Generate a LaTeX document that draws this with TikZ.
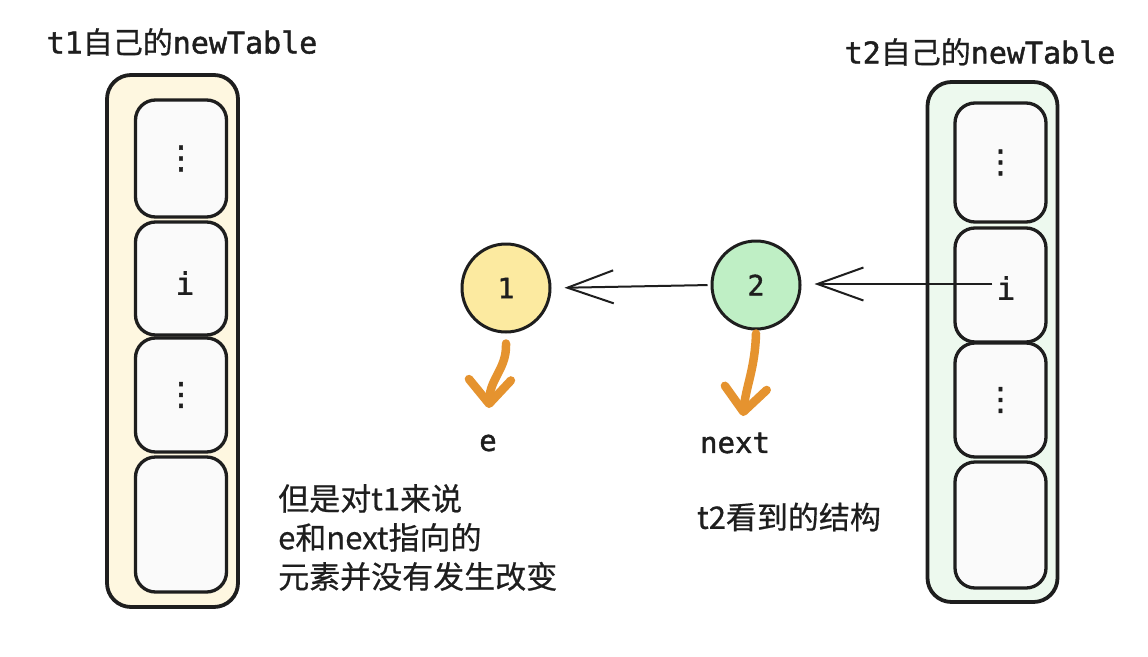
\documentclass[tikz,border=0pt]{standalone}
\usepackage{fontspec}
\newfontfamily\cjk{Noto Sans CJK SC}[FakeBold=0.6]
\newfontfamily\mono{DejaVu Sans Mono}[FakeBold=1.4]
\newfontfamily\sym{DejaVu Sans}[FakeBold=1.5]
\usetikzlibrary{arrows.meta}
\definecolor{ink}{HTML}{1E1E1E}
\definecolor{yellowfill}{HTML}{FEF7E0}
\definecolor{greenfill}{HTML}{EDF9EE}
\definecolor{cellfill}{HTML}{FAFAFA}
\definecolor{onefill}{HTML}{FCEAA0}
\definecolor{twofill}{HTML}{BFEFC5}
\definecolor{orangeink}{HTML}{E5932F}
\tikzset{
  outerbox/.style={draw=ink, line width=3.8pt, rounded corners=24pt, inner sep=0pt},
  cellbox/.style={draw=ink, line width=3.3pt, rounded corners=20pt, fill=cellfill, inner sep=0pt, minimum width=91pt},
  numcircle/.style={circle, draw=ink, line width=3pt, minimum size=88pt, inner sep=0pt, text=ink, font=\mono\fontsize{28}{32}\selectfont},
  celltext/.style={text=ink, inner sep=0pt, font=\mono\fontsize{31}{34}\selectfont},
  dotstext/.style={text=ink, inner sep=0pt, font=\sym\fontsize{32}{36}\selectfont},
  title/.style={text=ink, inner sep=0pt, font=\fontsize{30}{38}\selectfont},
  label/.style={text=ink, inner sep=0pt, font=\mono\fontsize{29}{36}\selectfont},
  note/.style={text=ink, inner sep=0pt, align=left, font=\cjk\fontsize{31}{39}\selectfont},
  blackarrow/.style={draw=ink, line width=2pt, -{Straight Barb[length=46pt, width=33pt]}},
  orangearrow/.style={draw=orangeink, line width=8.5pt, line cap=round, -{Straight Barb[length=24pt, width=42pt, round]}},
}
\begin{document}
\begin{tikzpicture}[x=1pt, y=-1pt]
\useasboundingbox (0,0) rectangle (1148,656);
\fill[white] (0,0) rectangle (1148,656);

% titles
\node[title] (t1) at (182,42) {{\mono t1}{\cjk 自己的}{\mono newTable}};
\node[title] (t2) at (980,52) {{\mono t2}{\cjk 自己的}{\mono newTable}};

% left table
\node[outerbox, fill=yellowfill, minimum width=131pt, minimum height=532pt] (lt) at (172.5,341) {};
\node[cellbox, minimum height=117pt] (l1) at (181,158.5) {};
\node[cellbox, minimum height=113pt] (l2) at (181,278.5) {};
\node[cellbox, minimum height=114pt] (l3) at (181,395) {};
\node[cellbox, minimum height=135pt] (l4) at (181,524.5) {};
\node[dotstext] (l1t) at (l1.center) {⋮};
\node[celltext] (l2t) at (185,283) {i};
\node[dotstext] (l3t) at (l3.center) {⋮};

% right table
\node[outerbox, fill=greenfill, minimum width=130pt, minimum height=520pt] (rt) at (992.5,342) {};
\node[cellbox, minimum height=119pt] (r1) at (1000.5,162.5) {};
\node[cellbox, minimum height=114pt] (r2) at (1000.5,285) {};
\node[cellbox, minimum height=114pt] (r3) at (1000.5,400) {};
\node[cellbox, minimum height=126pt] (r4) at (1000.5,525) {};
\node[dotstext] (r1t) at (r1.center) {⋮};
\node[celltext] (ri) at (1006,288) {i};
\node[dotstext] (r3t) at (r3.center) {⋮};

% circles
\node[numcircle, fill=onefill] (c1) at (506,288) {1};
\node[numcircle, fill=twofill] (c2) at (756,285) {2};

% labels
\node[label] (e) at (488,443) {e};
\node[label] (nx) at (735,443) {next};
\coordinate (etip) at (489,408);
\coordinate (nxtip) at (743,416);

% notes
\node[note, anchor=north west] (n1) at (278,484) {但是对t1来说\\e和next指向的\\元素并没有发生改变};
\node[note] (n2) at (789,517) {t2看到的结构};

% connectors
\draw[blackarrow, shorten <=3pt, shorten >=13pt] (c2.west) -- (c1.east);
\draw[blackarrow, shorten <=4pt, shorten >=13pt] ([yshift=4pt]ri.west) -- ([yshift=4pt]ri.west -| c2.east);
\draw[orangearrow] ([yshift=-10pt]c1.south) .. controls +(1,25) and +(1,-30) .. (etip);
\draw[orangearrow] ([yshift=-3pt]c2.south) .. controls +(-1,35) and +(3,-30) .. (nxtip);
\end{tikzpicture}
\end{document}
